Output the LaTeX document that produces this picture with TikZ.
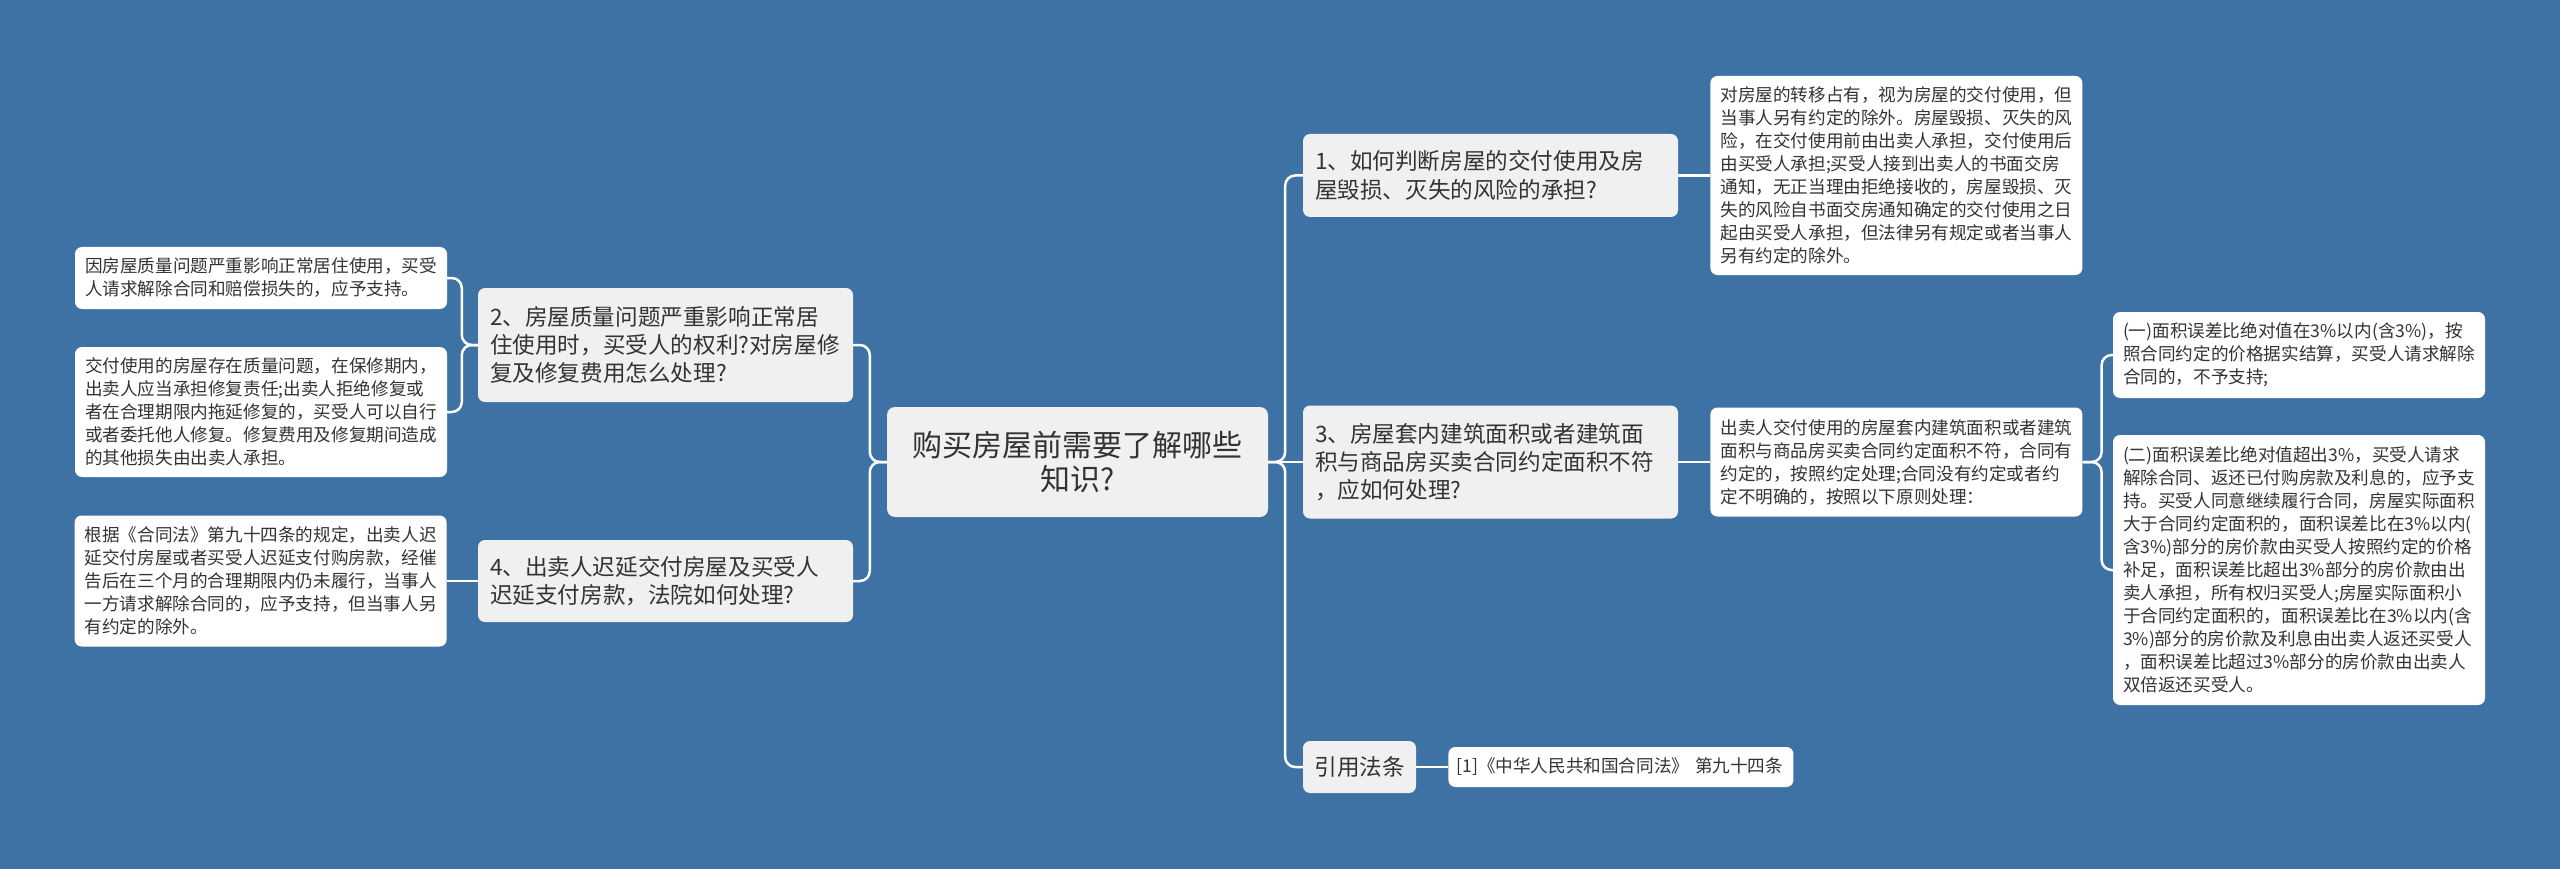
\documentclass[tikz,border=0pt]{standalone}
\usepackage{fontspec}
\setmainfont{Noto Sans CJK SC}
\usepackage{tikz}
\usetikzlibrary{positioning}

\definecolor{mapbg}{HTML}{3E72A5}
\definecolor{topicgrey}{HTML}{F0F0F0}
\definecolor{inkgrey}{HTML}{333333}

\begin{document}
\begin{tikzpicture}[
  x=1pt, y=-1pt,
  node distance=32pt,
  hub/.style={fill=topicgrey, rounded corners=8pt, minimum width=381pt, minimum height=110pt, align=center, text=inkgrey, font=\fontsize{30}{33.3}\selectfont, inner sep=0pt},
  topic/.style={fill=topicgrey, rounded corners=7pt, text width=351pt, inner xsep=12pt, inner ysep=6pt, align=left, text=inkgrey, font=\fontsize{22.6}{28.3}\selectfont},
  note/.style={fill=white, rounded corners=7pt, text width=352pt, inner xsep=10pt, inner ysep=6pt, align=left, text=inkgrey, font=\fontsize{17.6}{23}\selectfont},
  link/.style={draw=white, line width=2.5pt, rounded corners=10pt}
]
\fill[mapbg] (0,0) rectangle (2560,869);
\useasboundingbox (0,0) rectangle (2560,869);

% centre and the four questions
\node[hub] (hub) at (1077.5,462) {购买房屋前需要了解哪些\\知识?};
\node[topic, minimum height=114pt] (q2) at (665.5,345) {2、房屋质量问题严重影响正常居\\住使用时，买受人的权利?对房屋修\\复及修复费用怎么处理?};
\node[topic, minimum height=82pt] (q4) at (665.5,581) {4、出卖人迟延交付房屋及买受人\\迟延支付房款，法院如何处理?};
\node[topic, minimum height=83pt] (q1) at (1490.5,175.5) {1、如何判断房屋的交付使用及房\\屋毁损、灭失的风险的承担?};
\node[topic, minimum height=113pt] (q3) at (1490.5,462) {3、房屋套内建筑面积或者建筑面\\积与商品房买卖合同约定面积不符\\，应如何处理?};
\node[topic, text width=90pt, inner xsep=11.5pt, minimum height=52pt] (cite) at (1359.5,767) {引用法条};

% answers
\node[note, minimum height=62pt] (a2a) at (261,278) {因房屋质量问题严重影响正常居住使用，买受\\人请求解除合同和赔偿损失的，应予支持。};
\node[note, minimum height=130pt] (a2b) at (261,412) {交付使用的房屋存在质量问题，在保修期内，\\出卖人应当承担修复责任;出卖人拒绝修复或\\者在合理期限内拖延修复的，买受人可以自行\\或者委托他人修复。修复费用及修复期间造成\\的其他损失由出卖人承担。};
\node[note, minimum height=131pt, left=31pt of q4] (a4) {根据《合同法》第九十四条的规定，出卖人迟\\延交付房屋或者买受人迟延支付购房款，经催\\告后在三个月的合理期限内仍未履行，当事人\\一方请求解除合同的，应予支持，但当事人另\\有约定的除外。};
\node[note, minimum height=199pt, right=of q1] (a1) {对房屋的转移占有，视为房屋的交付使用，但\\当事人另有约定的除外。房屋毁损、灭失的风\\险，在交付使用前由出卖人承担，交付使用后\\由买受人承担;买受人接到出卖人的书面交房\\通知，无正当理由拒绝接收的，房屋毁损、灭\\失的风险自书面交房通知确定的交付使用之日\\起由买受人承担，但法律另有规定或者当事人\\另有约定的除外。};
\node[note, minimum height=109pt, right=of q3] (a3) {出卖人交付使用的房屋套内建筑面积或者建筑\\面积与商品房买卖合同约定面积不符，合同有\\约定的，按照约定处理;合同没有约定或者约\\定不明确的，按照以下原则处理：};
\node[note, minimum height=86pt] (a3a) at (2299,355) {(一)面积误差比绝对值在3\%以内(含3\%)，按\\照合同约定的价格据实结算，买受人请求解除\\合同的，不予支持;};
\node[note, minimum height=270pt] (a3b) at (2299,570) {(二)面积误差比绝对值超出3\%，买受人请求\\解除合同、返还已付购房款及利息的，应予支\\持。买受人同意继续履行合同，房屋实际面积\\大于合同约定面积的，面积误差比在3\%以内(\\含3\%)部分的房价款由买受人按照约定的价格\\补足，面积误差比超出3\%部分的房价款由出\\卖人承担，所有权归买受人;房屋实际面积小\\于合同约定面积的，面积误差比在3\%以内(含\\3\%)部分的房价款及利息由出卖人返还买受人\\，面积误差比超过3\%部分的房价款由出卖人\\双倍返还买受人。};
\node[note, text width=329pt, inner xsep=8pt, minimum height=40pt, right=of cite] (law) {[1]《中华人民共和国合同法》~第九十四条};

% connectors
\draw[link] (hub.east) -- ++(17,0) |- (q1.west);
\draw[link] (hub.east) -- (q3.west);
\draw[link] (hub.east) -- ++(17,0) |- (cite.west);
\draw[link] (hub.west) -- ++(-17,0) |- (q2.east);
\draw[link] (hub.west) -- ++(-17,0) |- (q4.east);
\draw[link] (q2.west) -- ++(-16,0) |- (a2a.east);
\draw[link] (q2.west) -- ++(-16,0) |- (a2b.east);
\draw[link] (q4) -- (a4);
\draw[link] (q1) -- (a1);
\draw[link] (q3) -- (a3);
\draw[link] (a3.east) -- ++(19,0) |- (a3a.west);
\draw[link] (a3.east) -- ++(19,0) |- (a3b.west);
\draw[link] (cite) -- (law);
\end{tikzpicture}
\end{document}
